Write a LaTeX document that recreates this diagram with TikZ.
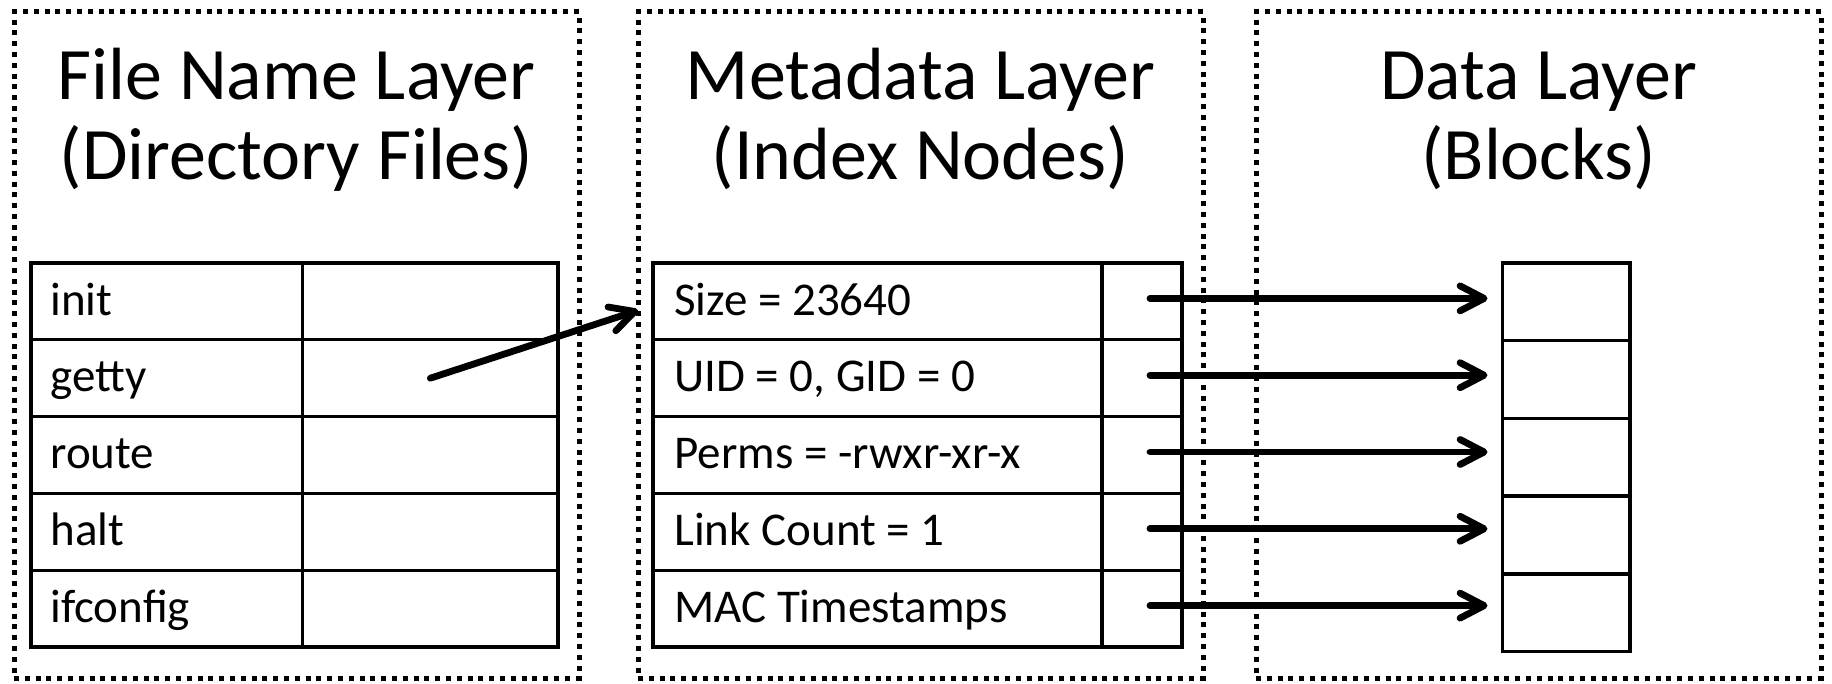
\documentclass[tikz,border=0pt]{standalone}
\usepackage{fontspec}
\setmainfont{Carlito}
\usetikzlibrary{arrows.meta,calc}
\begin{document}
\begin{tikzpicture}[x=0.5pt,y=-0.5pt,
  layerbox/.style={draw, line width=2.5pt, dash pattern=on 2.5pt off 2.9pt, minimum width=282.5pt, minimum height=333pt, inner sep=0pt, outer sep=0pt},
  cell/.style={draw, line width=1.7pt, inner sep=0pt, outer sep=0pt},
  title/.style={font=\fontsize{37}{40}\selectfont, anchor=base, inner sep=0pt},
  entry/.style={font=\fontsize{23.5}{28}\selectfont, anchor=base west, inner sep=0pt},
  ptr/.style={line width=3.4pt, line cap=round, -{Straight Barb[length=12pt,width=12.5pt,line cap=round,line join=round]}}
]
\fill[white] (0,0) rectangle (1832,684);
\useasboundingbox (0,0) rectangle (1832,684);

% layer boxes
\node[layerbox] (L1) at (296.5,345) {};
\node[layerbox] (L2) at (920.5,345) {};
\node[layerbox] (L3) at (1538.5,345) {};

% titles
\node[title] (T1a) at (296.5,100) {File Name Layer};
\node[title] (T1b) at (296.5,180) {(Directory Files)};
\node[title] (T2a) at (920.5,100) {Metadata Layer};
\node[title] (T2b) at (920.5,180) {(Index Nodes)};
\node[title] (T3a) at (1538.5,100) {Data Layer};
\node[title] (T3b) at (1538.5,180) {(Blocks)};

% directory table
\foreach \t [count=\i] in {init,getty,route,halt,ifconfig}{
  \node[cell, minimum width=135.85pt, minimum height=38.4pt] (lc\i) at (166.85,{263+76.8*(\i-0.5)}) {};
  \node[cell, minimum width=127.65pt, minimum height=38.4pt] (lp\i) at (430.35,{263+76.8*(\i-0.5)}) {};
  \node[entry] (lt\i) at ($(lc\i.west)+(9.5pt,-6.8pt)$) {\t};
}

% inode table
\foreach \t [count=\i] in {Size = 23640,{UID = 0, GID = 0},Perms = -rwxr-xr-x,Link Count = 1,MAC Timestamps}{
  \node[cell, minimum width=224.5pt, minimum height=38.4pt] (mc\i) at (877.5,{263+76.8*(\i-0.5)}) {};
  \node[cell, minimum width=40pt, minimum height=38.4pt] (mp\i) at (1142,{263+76.8*(\i-0.5)}) {};
  \node[entry] (mt\i) at ($(mc\i.west)+(10.5pt,-6.8pt)$) {\t};
}

% blocks
\foreach \i in {1,...,5}{
  \node[cell, minimum width=63.75pt, minimum height=38.85pt] (b\i) at (1566.25,{263+77.7*(\i-0.5)}) {};
}

% pointers
\draw[ptr] (lp2.center) -- ([yshift=-4.5pt]L2.west |- mc1.center);
\foreach \i in {1,...,5}{
  \draw[ptr, shorten >=11.5pt] ([xshift=4pt,yshift=1.5pt]mp\i.center) -- ([xshift=4pt,yshift=1.5pt]mp\i.center -| b\i.west);
}
\end{tikzpicture}
\end{document}
